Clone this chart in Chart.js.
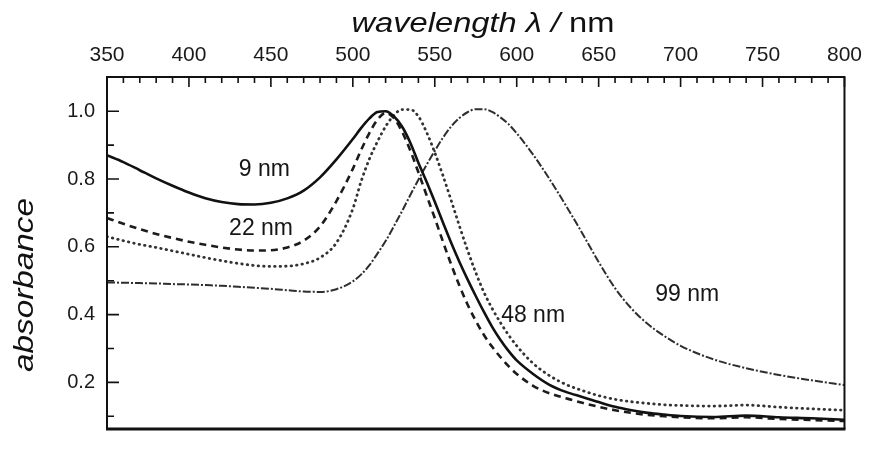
<!DOCTYPE html>
<html>
<head>
<meta charset="utf-8">
<script src="https://cdn.jsdelivr.net/npm/chart.js@4"></script>
<style>
  html, body { margin: 0; padding: 0; background: #fff; }
  #spectra { display: block; }
</style>
</head>
<body>
<canvas id="spectra" width="871" height="453"></canvas>
<script>
// wavelength grid (nm) shared by all four spectra
const wavelengths = [350, 360, 370, 380, 390, 400, 410, 420, 430, 440, 450, 460, 470, 480, 490, 500,
  505, 510, 515, 520, 525, 530, 535, 540, 545, 550, 555, 560, 565, 570, 575, 580, 585, 590, 595, 600,
  610, 620, 630, 640, 650, 660, 670, 680, 690, 700, 720, 740, 760, 780, 800];

// normalised absorbance
const abs9nm = [0.870, 0.850, 0.826, 0.802, 0.780, 0.760, 0.743, 0.732, 0.726, 0.725, 0.730, 0.743, 0.766, 0.805, 0.858, 0.918,
  0.950, 0.978, 0.998, 1.000, 0.985, 0.955, 0.908, 0.848, 0.792, 0.733, 0.672, 0.612, 0.556, 0.504, 0.455, 0.408, 0.364, 0.326, 0.293, 0.265,
  0.225, 0.193, 0.172, 0.157, 0.142, 0.128, 0.118, 0.110, 0.105, 0.101, 0.098, 0.102, 0.097, 0.094, 0.090];

const abs22nm = [0.685, 0.668, 0.652, 0.638, 0.626, 0.615, 0.606, 0.598, 0.592, 0.589, 0.590, 0.598, 0.618, 0.660, 0.735, 0.830,
  0.885, 0.935, 0.975, 0.995, 0.980, 0.940, 0.885, 0.820, 0.752, 0.685, 0.615, 0.548, 0.486, 0.430, 0.382, 0.340, 0.305, 0.275, 0.248, 0.225,
  0.190, 0.168, 0.153, 0.140, 0.128, 0.118, 0.110, 0.104, 0.100, 0.097, 0.094, 0.097, 0.092, 0.089, 0.086];

const abs48nm = [0.630, 0.618, 0.607, 0.598, 0.588, 0.578, 0.568, 0.559, 0.551, 0.545, 0.542, 0.543, 0.550, 0.568, 0.612, 0.712,
  0.792, 0.858, 0.910, 0.955, 0.988, 1.005, 1.005, 0.985, 0.938, 0.878, 0.810, 0.737, 0.662, 0.590, 0.524, 0.466, 0.418, 0.377, 0.340, 0.308,
  0.256, 0.220, 0.194, 0.176, 0.161, 0.150, 0.143, 0.138, 0.134, 0.132, 0.130, 0.133, 0.127, 0.122, 0.118];

const abs99nm = [0.495, 0.494, 0.493, 0.492, 0.490, 0.489, 0.487, 0.485, 0.482, 0.479, 0.476, 0.472, 0.468, 0.467, 0.475, 0.498,
  0.518, 0.545, 0.580, 0.617, 0.660, 0.705, 0.752, 0.798, 0.842, 0.883, 0.922, 0.955, 0.980, 0.997, 1.006, 1.006, 0.998, 0.982, 0.962, 0.935,
  0.872, 0.800, 0.722, 0.640, 0.555, 0.478, 0.418, 0.372, 0.337, 0.308, 0.268, 0.242, 0.222, 0.206, 0.192];

const xTicks = [350, 400, 450, 500, 550, 600, 650, 700, 750, 800];
const yTicks = [0.2, 0.4, 0.6, 0.8, 1.0];
const yMinorTicks = [0.1, 0.3, 0.5, 0.7, 0.9];

// curve annotations, placed in data coordinates
const curveLabels = [
  { text: '9 nm', wl: 446, abs: 0.829 },
  { text: '22 nm', wl: 444, abs: 0.655 },
  { text: '48 nm', wl: 610, abs: 0.396 },
  { text: '99 nm', wl: 704, abs: 0.458 }
];

const FONT = '"Liberation Sans", Arial, Helvetica, sans-serif';

function toPoints(values) {
  return wavelengths.map((wl, i) => ({ x: wl, y: values[i] }));
}

// draw text squeezed/stretched to a target length
function drawFitted(ctx, parts, cx, cy, width, angle) {
  let total = 0;
  parts.forEach(p => { ctx.font = p.font; total += ctx.measureText(p.text).width; });
  ctx.save();
  ctx.translate(cx, cy);
  ctx.rotate(angle);
  ctx.scale(width / total, 1);
  ctx.textAlign = 'left';
  ctx.textBaseline = 'alphabetic';
  let pos = -total / 2;
  parts.forEach(p => {
    ctx.font = p.font;
    ctx.fillText(p.text, pos, 0);
    pos += ctx.measureText(p.text).width;
  });
  ctx.restore();
}

const framePlugin = {
  id: 'frame',
  afterDraw(chart) {
    const { ctx, chartArea: a, scales: { x, y } } = chart;
    ctx.save();
    ctx.strokeStyle = '#111';
    ctx.lineCap = 'butt';

    // frame
    ctx.lineWidth = 2;
    ctx.beginPath();
    ctx.moveTo(a.left, a.top); ctx.lineTo(a.right, a.top);
    ctx.moveTo(a.left, a.top - 1); ctx.lineTo(a.left, a.bottom);
    ctx.moveTo(a.right, a.top - 1); ctx.lineTo(a.right, a.bottom);
    ctx.stroke();
    ctx.lineWidth = 3;
    ctx.beginPath();
    ctx.moveTo(a.left - 1, a.bottom); ctx.lineTo(a.right + 1, a.bottom);
    ctx.stroke();

    // inward tick marks, top axis
    ctx.lineWidth = 1.6;
    ctx.beginPath();
    for (let wl = x.min; wl <= x.max; wl += 10) {
      const px = x.getPixelForValue(wl);
      const len = xTicks.includes(wl) ? 10 : 6;
      ctx.moveTo(px, a.top); ctx.lineTo(px, a.top + len);
    }
    // inward tick marks, left axis
    yTicks.forEach(v => {
      const py = y.getPixelForValue(v);
      ctx.moveTo(a.left, py); ctx.lineTo(a.left + 12, py);
    });
    yMinorTicks.forEach(v => {
      const py = y.getPixelForValue(v);
      ctx.moveTo(a.left, py); ctx.lineTo(a.left + 7, py);
    });
    ctx.stroke();

    // curve labels
    ctx.fillStyle = '#161616';
    ctx.font = '23px ' + FONT;
    ctx.textAlign = 'center';
    ctx.textBaseline = 'middle';
    curveLabels.forEach(l => {
      ctx.fillText(l.text, x.getPixelForValue(l.wl), y.getPixelForValue(l.abs));
    });

    // axis titles
    ctx.fillStyle = '#111';
    drawFitted(ctx, [
      { text: 'wavelength λ / ', font: 'italic 27px ' + FONT },
      { text: 'nm', font: '27px ' + FONT }
    ], 483, 32, 263, 0);
    drawFitted(ctx, [{ text: 'absorbance', font: 'italic 27px ' + FONT }], 33, 285, 174, -Math.PI / 2);

    ctx.restore();
  }
};

new Chart(document.getElementById('spectra'), {
  type: 'line',
  data: {
    datasets: [
      { label: '9 nm', data: toPoints(abs9nm), borderColor: '#111', borderWidth: 2.6 },
      { label: '22 nm', data: toPoints(abs22nm), borderColor: '#1c1c1c', borderWidth: 2.6, borderDash: [7, 5] },
      { label: '48 nm', data: toPoints(abs48nm), borderColor: '#333', borderWidth: 2.8, borderDash: [0.5, 5], borderCapStyle: 'round' },
      { label: '99 nm', data: toPoints(abs99nm), borderColor: '#2e2e2e', borderWidth: 2, borderDash: [8, 2, 2, 2] }
    ]
  },
  options: {
    responsive: false,
    animation: false,
    layout: { padding: { left: 0, top: 0, right: 21, bottom: 6 } },
    elements: {
      point: { radius: 0 },
      line: { cubicInterpolationMode: 'monotone', fill: false }
    },
    plugins: {
      legend: { display: false },
      tooltip: { enabled: false }
    },
    scales: {
      x: {
        type: 'linear',
        position: 'top',
        min: 350,
        max: 800,
        afterFit: s => { s.height = 77; },
        afterBuildTicks: s => { s.ticks = xTicks.map(v => ({ value: v })); },
        grid: { display: false, drawTicks: false },
        border: { display: false },
        ticks: { padding: 9, color: '#1a1a1a', font: { family: FONT, size: 21 } }
      },
      y: {
        type: 'linear',
        min: 0.0625,
        max: 1.101,
        afterFit: s => { s.width = 107; },
        afterBuildTicks: s => { s.ticks = yTicks.map(v => ({ value: v })); },
        grid: { display: false, drawTicks: false },
        border: { display: false },
        ticks: {
          padding: 12,
          color: '#1a1a1a',
          font: { family: FONT, size: 20 },
          callback: v => v.toFixed(1)
        }
      }
    }
  },
  plugins: [framePlugin]
});
</script>
</body>
</html>
